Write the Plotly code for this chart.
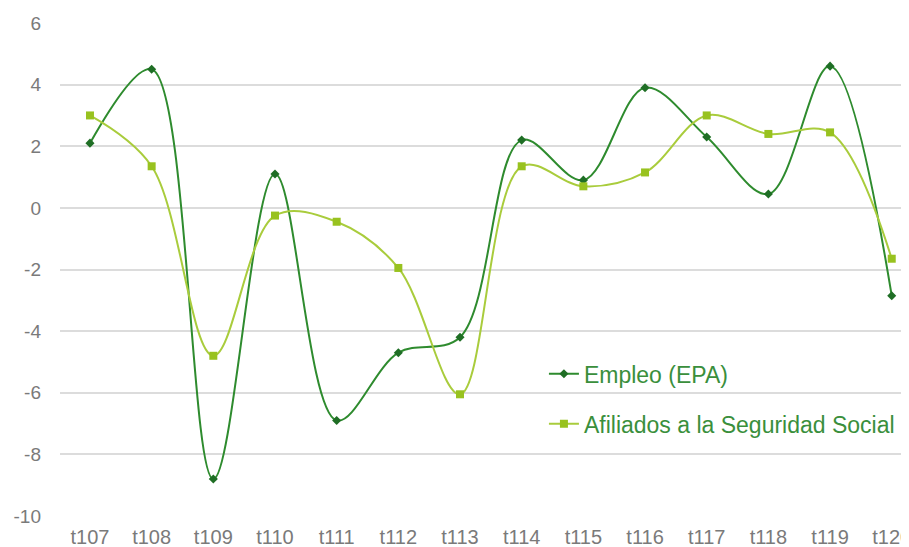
import plotly.graph_objects as go

categories = ["t107", "t108", "t109", "t110", "t111", "t112", "t113",
              "t114", "t115", "t116", "t117", "t118", "t119", "t120"]
empleo_epa = [2.1, 4.5, -8.8, 1.1, -6.9, -4.7, -4.2, 2.2, 0.9, 3.9, 2.3, 0.45, 4.6, -2.85]
afiliados_ss = [3.0, 1.35, -4.8, -0.25, -0.45, -1.95, -6.05, 1.35, 0.7, 1.15, 3.0, 2.4, 2.45, -1.65]
y_ticks = [6, 4, 2, 0, -2, -4, -6, -8, -10]
y_tick_labels = ["6", "4", "2", "0", "-2", "-4", "-6", "-8", "-10"]

xpos = list(range(len(categories)))

fig = go.Figure()
fig.add_trace(go.Scatter(
    x=xpos, y=empleo_epa, name="Empleo (EPA)", mode="lines+markers",
    line=dict(color="#2e8b2e", width=2, shape="spline", smoothing=1.0),
    marker=dict(symbol="diamond", size=7, color="#1f6e25"),
    legendgroup="a",
))
fig.add_trace(go.Scatter(
    x=xpos, y=afiliados_ss, name="Afiliados a la Seguridad Social", mode="lines+markers",
    line=dict(color="#a9cc3c", width=2, shape="spline", smoothing=1.0),
    marker=dict(symbol="square", size=8, color="#98c21f"),
    legendgroup="b",
))

fig.update_layout(
    width=901, height=539,
    margin=dict(l=52, r=0, t=15, b=31, autoexpand=False),
    paper_bgcolor="white", plot_bgcolor="white",
    font=dict(family="Liberation Sans, Arial, sans-serif", size=16, color="#7a7a7a"),
    showlegend=True,
    legend=dict(
        x=0.570, y=0.332, xanchor="left", yanchor="top",
        bgcolor="rgba(0,0,0,0)",
        font=dict(size=23, color="#3a8f3c"),
        tracegroupgap=17, itemwidth=30,
    ),
    xaxis=dict(
        tickmode="array", tickvals=xpos, ticktext=categories,
        range=[-0.486, 13.28], showgrid=False, zeroline=False,
        showline=False, ticks="", ticklabelstandoff=7, automargin=False,
        ticklabeloverflow="allow",
        tickfont=dict(size=20, color="#7a7a7a"),
    ),
    yaxis=dict(
        range=[-10, 6], tickmode="array", tickvals=y_ticks, ticktext=y_tick_labels,
        showgrid=True, gridcolor="#dcdcdc", gridwidth=1.5,
        zeroline=False, showline=False, ticks="", automargin=False,
        ticklabelstandoff=18, ticklabeloverflow="allow",
        tickfont=dict(size=19, color="#7a7a7a"),
    ),
)

fig.write_html("out.html")
